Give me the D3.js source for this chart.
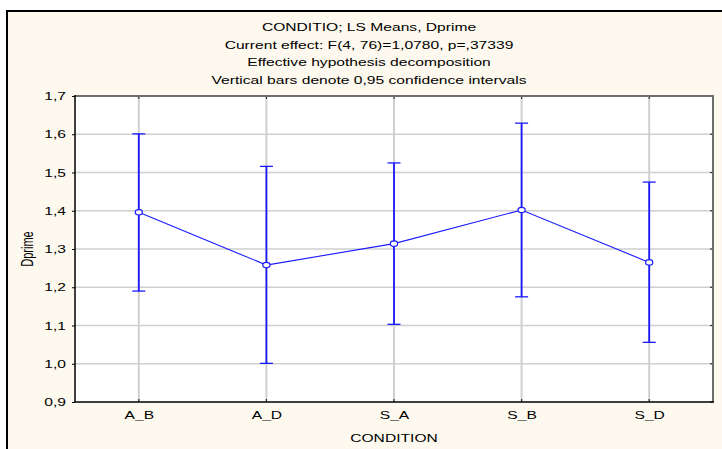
<!DOCTYPE html>
<html>
<head>
<meta charset="utf-8">
<script src="https://cdn.jsdelivr.net/npm/d3@7"></script>
<style>
  html, body { margin: 0; padding: 0; background: #ffffff; }
  svg { display: block; font-family: "Liberation Sans", Arial, sans-serif; }
</style>
</head>
<body>
<svg id="chart" width="722" height="449"></svg>
<script>
// LS means of Dprime per condition with 0.95 confidence limits
const categories = ["A_B", "A_D", "S_A", "S_B", "S_D"];
const means = [1.396, 1.258, 1.314, 1.402, 1.265];
const lower = [1.190, 1.001, 1.103, 1.175, 1.056];
const upper = [1.601, 1.516, 1.525, 1.629, 1.475];
const yTicks = [0.9, 1.0, 1.1, 1.2, 1.3, 1.4, 1.5, 1.6, 1.7];
const titleLines = [
  "CONDITIO; LS Means, Dprime",
  "Current effect: F(4, 76)=1,0780, p=,37339",
  "Effective hypothesis decomposition",
  "Vertical bars denote 0,95 confidence intervals"
];

const svg = d3.select("#chart");
const W = 722, H = 449;
const plot = { left: 75, right: 713, top: 96, bottom: 402 };
const fs = 11;      // font size
const sx = 1.42;    // horizontal stretch of the lettering
const blue = "#1a1aff";
const fmt = v => d3.format(".1f")(v).replace(".", ",");

// outer panel
svg.append("rect")
  .attr("x", 7).attr("y", 11).attr("width", W + 20).attr("height", H + 20)
  .attr("fill", "#fef9ee").attr("stroke", "#000").attr("stroke-width", 2);

// stretched label helper
function label(px, py, txt, anchor = "middle", rot = 0) {
  return svg.append("text")
    .attr("transform", `translate(${px},${py}) scale(${sx},1)` + (rot ? ` rotate(${rot})` : ""))
    .attr("text-anchor", anchor).attr("font-size", fs).attr("fill", "#000")
    .text(txt);
}

// titles
titleLines.forEach((t, i) => label(369, 31 + i * 17.7, t));

const x = d3.scalePoint().domain(categories).range([plot.left, plot.right]).padding(0.5);
const y = d3.scaleLinear().domain([0.9, 1.7]).range([plot.bottom, plot.top]);

// plotting area
svg.append("rect")
  .attr("x", plot.left).attr("y", plot.top)
  .attr("width", plot.right - plot.left).attr("height", plot.bottom - plot.top)
  .attr("fill", "#ffffff");

// grid
const grid = svg.append("g").attr("stroke", "#cfcfcf");
yTicks.slice(1, -1).forEach(v => {
  grid.append("line").attr("x1", plot.left).attr("x2", plot.right).attr("y1", y(v)).attr("y2", y(v))
    .attr("stroke-width", 1.5);
});
categories.forEach(c => {
  grid.append("line").attr("x1", x(c)).attr("x2", x(c)).attr("y1", plot.top).attr("y2", plot.bottom)
    .attr("stroke-width", 2);
});

// y axis
const yAxis = d3.axisLeft(y).tickValues(yTicks).tickFormat(fmt).tickSize(3).tickPadding(6);
const gy = svg.append("g").attr("transform", `translate(${plot.left},0)`).call(yAxis);
gy.select(".domain").remove();
gy.selectAll(".tick line").attr("stroke", "#000");
gy.selectAll("text")
  .attr("font-size", fs).attr("font-family", "Liberation Sans, Arial, sans-serif").attr("fill", "#000")
  .attr("x", -9 / sx).attr("transform", `scale(${sx},1)`);

// x axis
const xAxis = d3.axisBottom(x).tickSize(0).tickPadding(9);
const gx = svg.append("g").attr("transform", `translate(0,${plot.bottom})`).call(xAxis);
gx.select(".domain").remove();
gx.selectAll("text")
  .attr("font-size", fs).attr("font-family", "Liberation Sans, Arial, sans-serif").attr("fill", "#000")
  .attr("transform", `scale(${sx},1)`);

// inner tick marks on the frame edges
const tk = svg.append("g").attr("stroke", "#333").attr("stroke-width", 1.2);
categories.forEach(c => {
  tk.append("line").attr("x1", x(c)).attr("x2", x(c)).attr("y1", plot.bottom).attr("y2", plot.bottom - 3);
  tk.append("line").attr("x1", x(c)).attr("x2", x(c)).attr("y1", plot.top).attr("y2", plot.top + 3);
});
yTicks.forEach(v => {
  tk.append("line").attr("x1", plot.right).attr("x2", plot.right - 3).attr("y1", y(v)).attr("y2", y(v));
});

// frame
svg.append("line").attr("x1", plot.left).attr("x2", plot.right + 1).attr("y1", plot.top).attr("y2", plot.top)
  .attr("stroke", "#6e6e6e").attr("stroke-width", 2);
svg.append("line").attr("x1", plot.right).attr("x2", plot.right).attr("y1", plot.top).attr("y2", plot.bottom)
  .attr("stroke", "#6e6e6e").attr("stroke-width", 2);
svg.append("line").attr("x1", plot.left).attr("x2", plot.left).attr("y1", plot.top - 1).attr("y2", plot.bottom)
  .attr("stroke", "#000").attr("stroke-width", 1.5);
svg.append("line").attr("x1", plot.left).attr("x2", plot.right + 1).attr("y1", plot.bottom).attr("y2", plot.bottom)
  .attr("stroke", "#000").attr("stroke-width", 1.3);

// axis titles
label(x("S_A"), 442, "CONDITION");
label(33, (plot.top + plot.bottom) / 2, "Dprime", "middle", -90);

// error bars
const eb = svg.append("g").attr("stroke", blue);
categories.forEach((c, i) => {
  eb.append("line").attr("x1", x(c)).attr("x2", x(c)).attr("y1", y(lower[i])).attr("y2", y(upper[i]))
    .attr("stroke-width", 1.8);
  eb.append("line").attr("x1", x(c) - 6.5).attr("x2", x(c) + 6.5).attr("y1", y(lower[i])).attr("y2", y(lower[i]))
    .attr("stroke-width", 1.3);
  eb.append("line").attr("x1", x(c) - 6.5).attr("x2", x(c) + 6.5).attr("y1", y(upper[i])).attr("y2", y(upper[i]))
    .attr("stroke-width", 1.3);
});

// mean line
const line = d3.line().x((d, i) => x(categories[i])).y(d => y(d));
svg.append("path").datum(means).attr("d", line)
  .attr("fill", "none").attr("stroke", blue).attr("stroke-width", 1.1);

// markers
svg.append("g").selectAll("ellipse").data(means).join("ellipse")
  .attr("cx", (d, i) => x(categories[i])).attr("cy", d => y(d)).attr("rx", 3.6).attr("ry", 2.7)
  .attr("fill", "#fff").attr("stroke", blue).attr("stroke-width", 1.2);
</script>
</body>
</html>
